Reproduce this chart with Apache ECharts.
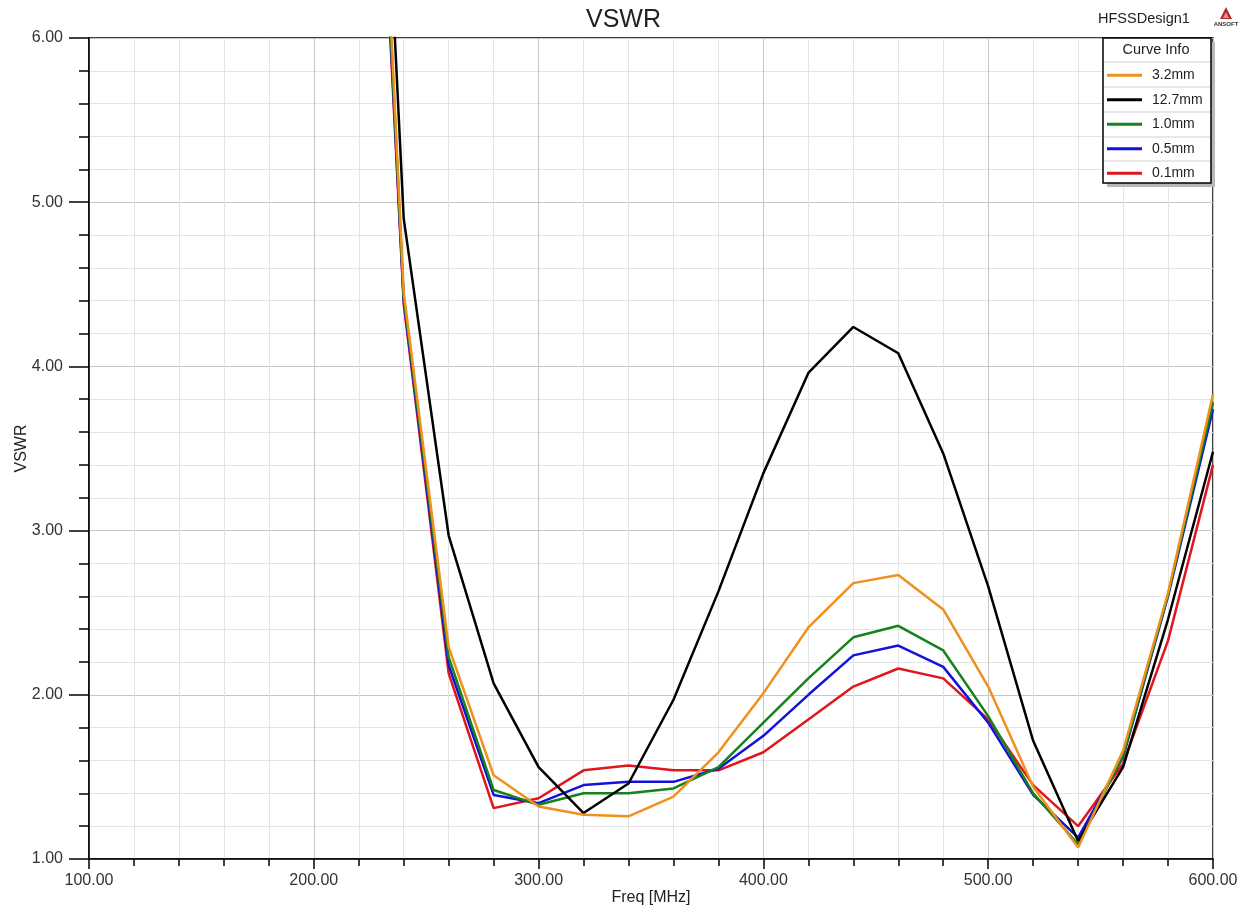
<!DOCTYPE html>
<html lang="en">
<head>
    <meta charset="UTF-8">
    <title>VSWR</title>
    <script src="https://cdn.jsdelivr.net/npm/echarts@6/dist/echarts.min.js"></script>
    <style>
        html, body { margin: 0; padding: 0; background: #fff; }
    </style>
</head>
<body>
<div id="chart" style="width: 1247px;height: 909px"></div>
<script type="text/javascript">
    // 频率点 (MHz)
    var freq = [220, 240, 260, 280, 300, 320, 340, 360, 380, 400, 420, 440, 460, 480, 500, 520, 540, 560, 580, 600];

    var curveNames = ['3.2mm', '12.7mm', '1.0mm', '0.5mm', '0.1mm'];
    var curveColors = ['#F0901E', '#000000', '#15821C', '#1212DA', '#E0161F'];

    var vswr32 = [10.2, 4.45, 2.29, 1.51, 1.32, 1.27, 1.26, 1.38, 1.65, 2.01, 2.41, 2.68, 2.73, 2.52, 2.05, 1.44, 1.07, 1.66, 2.62, 3.83];
    var vswr127 = [10.5, 4.90, 2.97, 2.07, 1.56, 1.28, 1.46, 1.97, 2.63, 3.35, 3.96, 4.24, 4.08, 3.47, 2.66, 1.72, 1.11, 1.56, 2.46, 3.48];
    var vswr10 = [10.0, 4.42, 2.23, 1.42, 1.33, 1.40, 1.40, 1.43, 1.56, 1.83, 2.10, 2.35, 2.42, 2.27, 1.87, 1.40, 1.09, 1.63, 2.61, 3.78];
    var vswr05 = [9.9, 4.40, 2.18, 1.39, 1.34, 1.45, 1.47, 1.47, 1.55, 1.75, 2.00, 2.24, 2.30, 2.17, 1.83, 1.39, 1.13, 1.62, 2.60, 3.74];
    var vswr01 = [9.8, 4.38, 2.13, 1.31, 1.37, 1.54, 1.57, 1.54, 1.54, 1.65, 1.85, 2.05, 2.16, 2.10, 1.85, 1.45, 1.20, 1.58, 2.33, 3.40];

    var curveValues = [vswr32, vswr127, vswr10, vswr05, vswr01];
    // 叠放次序：橙色在最上面
    var curveZ = [10, 9, 8, 7, 6];

    var font = 'Arial, "Liberation Sans", sans-serif';

    function toPairs(xs, ys) {
        return xs.map(function (x, i) { return [x, ys[i]]; });
    }

    var series = curveNames.map(function (name, i) {
        return {
            name: name,
            type: 'line',
            data: toPairs(freq, curveValues[i]),
            showSymbol: false,
            clip: true,
            z: curveZ[i],
            lineStyle: { color: curveColors[i], width: 2.5 },
            itemStyle: { color: curveColors[i] }
        };
    });

    var chart = echarts.init(document.getElementById('chart'));

    var options = {
        animation: false,
        backgroundColor: '#fff',
        title: {
            text: 'VSWR',
            left: 'center',
            top: 8,
            padding: 0,
            textStyle: { fontFamily: font, fontSize: 25, fontWeight: 'normal', color: '#222' }
        },
        grid: {
            left: 89, right: 34, top: 38, bottom: 50,
            outerBoundsMode: 'none',
            show: true, borderColor: '#000', borderWidth: 1.5
        },
        legend: {
            data: curveNames,
            orient: 'vertical',
            left: 1107,
            top: 63,
            padding: 0,
            itemGap: 0,
            itemWidth: 35,
            itemHeight: 3,
            icon: 'rect',
            selectedMode: false,
            z: 20,
            textStyle: { fontFamily: font, fontSize: 14, color: '#222', lineHeight: 24.5, padding: [0, 0, 0, 5] }
        },
        xAxis: {
            type: 'value',
            min: 100, max: 600, interval: 100,
            name: 'Freq [MHz]',
            nameLocation: 'middle',
            nameGap: 31,
            nameMoveOverlap: false,
            nameTextStyle: { fontFamily: font, fontSize: 16, color: '#222' },
            axisLine: { show: true, lineStyle: { color: '#000', width: 1.5 } },
            axisTick: { show: true, length: 10, lineStyle: { color: '#000', width: 1.5 } },
            minorTick: { show: true, splitNumber: 5, length: 7, lineStyle: { color: '#000', width: 1.5 } },
            axisLabel: {
                margin: 14,
                fontFamily: font, fontSize: 16, color: '#333',
                formatter: function (v) { return v.toFixed(2); }
            },
            splitLine: { show: true, lineStyle: { color: '#c6c6c6', width: 1 } },
            minorSplitLine: { show: true, lineStyle: { color: '#e4e4e4', width: 1 } }
        },
        yAxis: {
            type: 'value',
            min: 1, max: 6, interval: 1,
            name: 'VSWR',
            nameLocation: 'middle',
            nameRotate: 90,
            nameGap: 59,
            nameMoveOverlap: false,
            nameTextStyle: { fontFamily: font, fontSize: 16, color: '#222' },
            axisLine: { show: true, lineStyle: { color: '#000', width: 1.5 } },
            axisTick: { show: true, length: 20, lineStyle: { color: '#000', width: 1.5 } },
            minorTick: { show: true, splitNumber: 5, length: 10, lineStyle: { color: '#000', width: 1.5 } },
            axisLabel: {
                margin: 26,
                fontFamily: font, fontSize: 16, color: '#333',
                formatter: function (v) { return v.toFixed(2); }
            },
            splitLine: { show: true, lineStyle: { color: '#c6c6c6', width: 1 } },
            minorSplitLine: { show: true, lineStyle: { color: '#e4e4e4', width: 1 } }
        },
        graphic: [
            // 设计名和logo
            { type: 'text', left: 1098, top: 11, z: 5,
              style: { text: 'HFSSDesign1', fontFamily: font, fontSize: 14.5, fill: '#222' } },
            { type: 'polygon', z: 5,
              shape: { points: [[1226, 7], [1220, 19], [1232, 19]] },
              style: { fill: '#b02a2a' } },
            { type: 'polygon', z: 6,
              shape: { points: [[1226, 12], [1223, 18], [1229, 18]] },
              style: { fill: '#e89090' } },
            { type: 'text', x: 1226, y: 24, z: 5,
              style: { text: 'ANSOFT', fontFamily: font, fontSize: 6, fontWeight: 'bold', fill: '#333', align: 'center', verticalAlign: 'middle' } },
            // 图例框 Curve Info
            { type: 'rect', z: 15,
              shape: { x: 1107, y: 42, width: 108, height: 145 },
              style: { fill: '#b8b8b8' } },
            { type: 'rect', z: 16,
              shape: { x: 1103, y: 38, width: 108, height: 145 },
              style: { fill: '#fff', stroke: '#000', lineWidth: 1.5 } },
            { type: 'text', x: 1156, y: 50, z: 17,
              style: { text: 'Curve Info', fontFamily: font, fontSize: 14.5, fill: '#222', align: 'center', verticalAlign: 'middle' } },
            { type: 'line', z: 17, shape: { x1: 1104, y1: 62, x2: 1210, y2: 62 }, style: { stroke: '#cfcfcf', lineWidth: 1 } },
            { type: 'line', z: 17, shape: { x1: 1104, y1: 87, x2: 1210, y2: 87 }, style: { stroke: '#cfcfcf', lineWidth: 1 } },
            { type: 'line', z: 17, shape: { x1: 1104, y1: 112, x2: 1210, y2: 112 }, style: { stroke: '#cfcfcf', lineWidth: 1 } },
            { type: 'line', z: 17, shape: { x1: 1104, y1: 137, x2: 1210, y2: 137 }, style: { stroke: '#cfcfcf', lineWidth: 1 } },
            { type: 'line', z: 17, shape: { x1: 1104, y1: 161, x2: 1210, y2: 161 }, style: { stroke: '#cfcfcf', lineWidth: 1 } }
        ],
        series: series
    };
    chart.setOption(options);
</script>
</body>
</html>
